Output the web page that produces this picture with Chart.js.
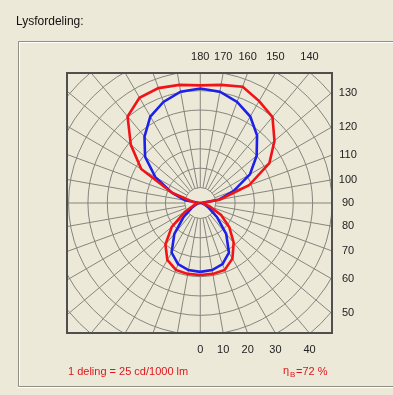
<!DOCTYPE html>
<html>
<head>
<meta charset="utf-8">
<script src="https://cdn.jsdelivr.net/npm/chart.js@4"></script>
<style>
  html, body { margin: 0; padding: 0; background: #ece9d8; }
  #wrap { position: relative; width: 393px; height: 395px; }
</style>
</head>
<body>
<div id="wrap"><canvas id="lysChart" width="393" height="395"></canvas></div>
<script>
// gamma-vinkler i grader, 0 = rett ned, 180 = rett opp
const gamma = [0, 10, 20, 30, 40, 50, 60, 70, 80, 90, 100, 110, 120, 130, 140, 150, 160, 170, 180];

// lysstyrke i cd/1000 lm, høyre og venstre halvplan
const redRight  = [93, 93, 92, 83, 67, 49, 31, 13, 4, 3, 26, 67, 103, 125, 145, 152, 160, 155, 152];
const redLeft   = [93, 93, 92, 85, 70, 48, 23, 9, 4, 3, 10, 39, 88, 117, 146, 157, 158, 155, 152];
const blueRight = [89, 88, 84, 74, 52, 28, 13, 6, 3, 1, 24, 46, 74, 95, 114, 129, 139, 146, 148];
const blueLeft  = [89, 88, 84, 74, 52, 28, 13, 6, 3, 1, 20, 39, 67, 93, 112, 129, 139, 146, 148];

// vinkelmerker langs rammen
const topTicks = [180, 170, 160, 150, 140];
const sideTicks = [130, 120, 110, 100, 90, 80, 70, 60, 50];
const bottomTicks = [0, 10, 20, 30, 40];

const DIV = 25;      // 1 deling = 25 cd/1000 lm
const RING0 = 20;    // innerste sirkel
const rad = d => d * Math.PI / 180;

// lukket kurve: høyre side 0 -> 180, venstre side 180 -> 0
function curve(right, left) {
  const pts = [];
  gamma.forEach((g, i) => pts.push({ x: right[i] * Math.sin(rad(g)), y: -right[i] * Math.cos(rad(g)) }));
  for (let i = gamma.length - 1; i >= 0; i--) {
    const g = gamma[i];
    pts.push({ x: -left[i] * Math.sin(rad(g)), y: -left[i] * Math.cos(rad(g)) });
  }
  return pts;
}

const polarGrid = {
  id: 'polarGrid',
  beforeDatasetsDraw(chart) {
    const { ctx, chartArea: a, scales: { x, y } } = chart;
    const cx = x.getPixelForValue(0), cy = y.getPixelForValue(0);
    const unit = x.getPixelForValue(1) - cx;
    ctx.save();
    ctx.beginPath();
    ctx.rect(a.left, a.top, a.width, a.height);
    ctx.clip();
    ctx.strokeStyle = '#86857d';
    ctx.lineWidth = 1;
    for (let r = RING0; r < 280; r += DIV) {
      ctx.beginPath();
      ctx.arc(cx, cy, r * unit, 0, Math.PI * 2);
      ctx.stroke();
    }
    for (let g = 0; g < 360; g += 10) {
      const s = Math.sin(rad(g)), c = Math.cos(rad(g));
      ctx.beginPath();
      ctx.moveTo(cx + s * RING0 * unit, cy + c * RING0 * unit);
      ctx.lineTo(cx + s * 280 * unit, cy + c * 280 * unit);
      ctx.stroke();
    }
    ctx.restore();
  },
  afterDatasetsDraw(chart) {
    const { ctx, chartArea: a, scales: { x, y } } = chart;
    ctx.save();
    // ramme rundt diagrammet
    ctx.strokeStyle = '#4f4f4f';
    ctx.lineWidth = 2;
    ctx.strokeRect(a.left, a.top, a.width, a.height);

    ctx.fillStyle = '#222';
    ctx.font = '11px "Liberation Sans", Arial, sans-serif';
    ctx.textAlign = 'center';
    ctx.textBaseline = 'middle';
    topTicks.forEach(g => {
      const t = y.max / -Math.cos(rad(g));
      ctx.fillText(String(g), x.getPixelForValue(t * Math.sin(rad(g))), a.top - 16);
    });
    sideTicks.forEach(g => {
      const t = x.max / Math.sin(rad(g));
      ctx.fillText(String(g), a.right + 16, y.getPixelForValue(-t * Math.cos(rad(g))));
    });
    bottomTicks.forEach(g => {
      const t = y.min / -Math.cos(rad(g));
      ctx.fillText(String(g), x.getPixelForValue(t * Math.sin(rad(g))), a.bottom + 17);
    });

    // gruppeboks
    ctx.lineWidth = 1;
    ctx.strokeStyle = '#8f8f86';
    ctx.beginPath();
    ctx.moveTo(400, 41.5); ctx.lineTo(18.5, 41.5); ctx.lineTo(18.5, 386.5); ctx.lineTo(400, 386.5);
    ctx.stroke();
    ctx.strokeStyle = '#ffffff';
    ctx.beginPath();
    ctx.moveTo(400, 42.5); ctx.lineTo(19.5, 42.5); ctx.lineTo(19.5, 385.5);
    ctx.moveTo(18, 387.5); ctx.lineTo(400, 387.5);
    ctx.stroke();

    ctx.textAlign = 'left';
    ctx.fillStyle = '#111';
    ctx.font = '12px "Liberation Sans", Arial, sans-serif';
    ctx.fillText('Lysfordeling:', 16, 22);

    ctx.fillStyle = '#e0161c';
    ctx.font = '11px "Liberation Sans", Arial, sans-serif';
    ctx.fillText('1 deling = ' + DIV + ' cd/1000 lm', 68, 372);
    ctx.fillText('\u03b7', 283, 371);
    ctx.font = '8px "Liberation Sans", Arial, sans-serif';
    ctx.fillText('B', 290, 375);
    ctx.font = '11px "Liberation Sans", Arial, sans-serif';
    ctx.fillText('=72 %', 296, 372);
    ctx.restore();
  }
};

new Chart(document.getElementById('lysChart'), {
  type: 'scatter',
  data: {
    datasets: [
      {
        label: 'C0-C180',
        data: curve(redRight, redLeft),
        showLine: true,
        borderColor: '#f01418',
        borderWidth: 2.6,
        pointRadius: 0,
        tension: 0
      },
      {
        label: 'C90-C270',
        data: curve(blueRight, blueLeft),
        showLine: true,
        borderColor: '#1c20e8',
        borderWidth: 2.6,
        pointRadius: 0,
        tension: 0
      }
    ]
  },
  options: {
    responsive: false,
    animation: false,
    devicePixelRatio: 1,
    layout: { padding: { left: 67, top: 73, right: 61, bottom: 62 } },
    scales: {
      x: { type: 'linear', min: -172, max: 170, display: false },
      y: { type: 'linear', min: -168, max: 168, display: false }
    },
    plugins: {
      legend: { display: false },
      tooltip: { enabled: false }
    }
  },
  plugins: [polarGrid]
});
</script>
</body>
</html>
